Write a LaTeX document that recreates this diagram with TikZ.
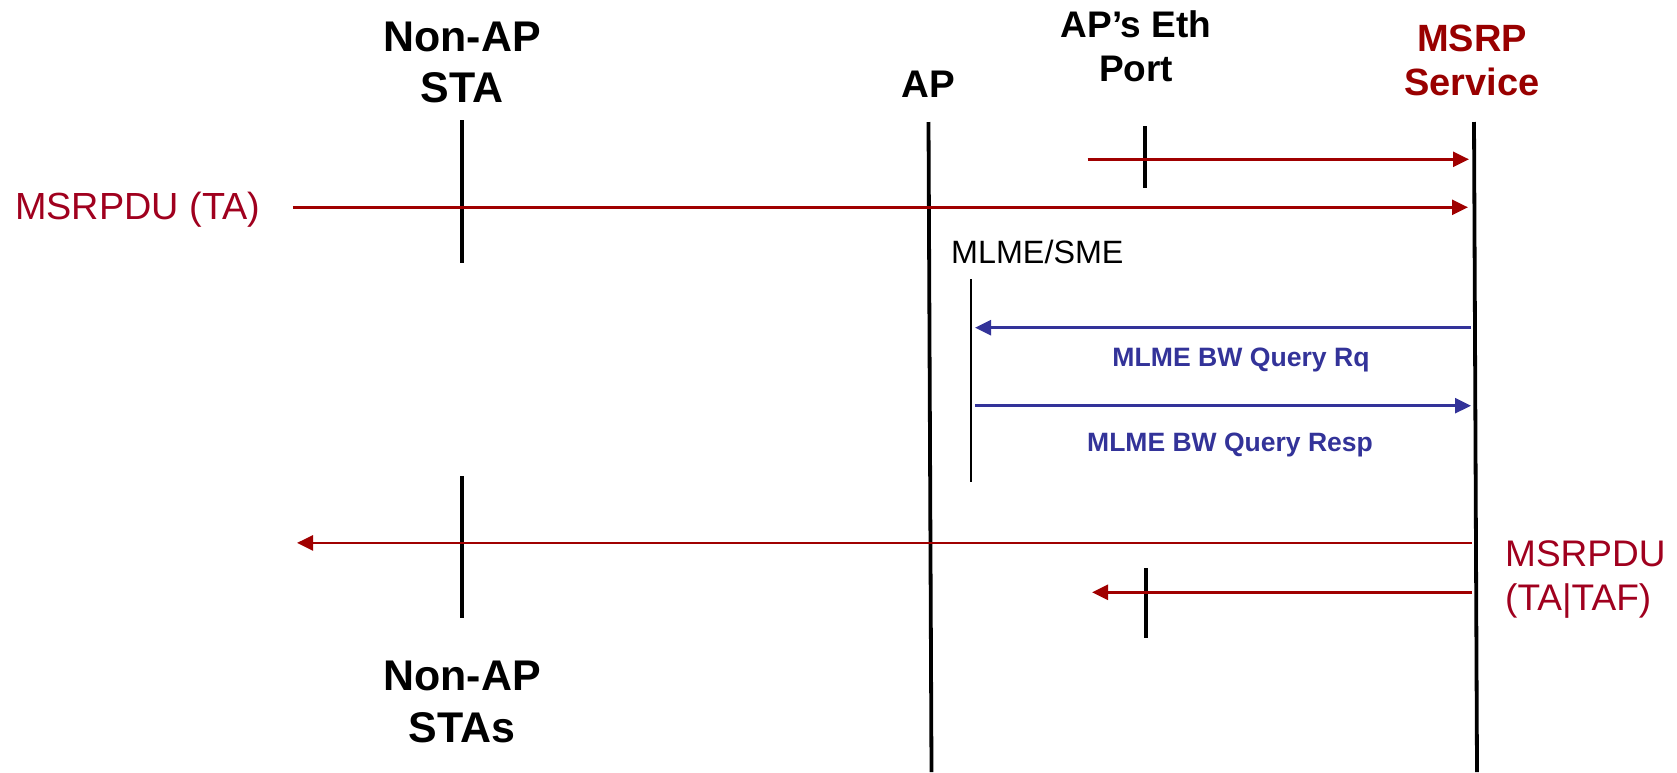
\documentclass[tikz,border=0pt]{standalone}
\usepackage{fontspec}
\setmainfont{Liberation Sans}
\usetikzlibrary{arrows.meta}
\definecolor{msred}{HTML}{A0001E}
\definecolor{arrred}{HTML}{A00000}
\definecolor{svcred}{HTML}{990000}
\definecolor{qblue}{HTML}{333399}
\begin{document}
\begin{tikzpicture}[x=1pt,y=-1pt,
  lifeline/.style={line width=3.8pt,black},
  tickline/.style={line width=3.5pt,black},
  smeline/.style={line width=2.5pt,black},
  redmsg/.style={line width=2.7pt,arrred,-{Triangle[length=16pt,width=15pt]}},
  bluemsg/.style={line width=2.7pt,qblue,-{Triangle[length=16pt,width=15pt]}},
  hdr/.style={align=center,inner sep=0pt,anchor=base},
  lbl/.style={inner sep=0pt}]
\useasboundingbox[fill=white] (0,0) rectangle (1677,772);

% headers (anchor = baseline of last line)
\node[hdr,font=\bfseries\fontsize{42.9}{50.6}\selectfont] (sta) at (462,102.3) {Non-AP\\STA};
\node[hdr,font=\bfseries\fontsize{38.5}{46}\selectfont] (ap) at (928.5,97.3) {AP};
\node[hdr,font=\bfseries\fontsize{37}{44.4}\selectfont] (eth) at (1136,81.7) {AP’s Eth\\Port};
\node[hdr,svcred,font=\bfseries\fontsize{38}{44}\selectfont] (svc) at (1472,95) {MSRP\\Service};
\node[hdr,font=\bfseries\fontsize{42.9}{52}\selectfont] (stas) at (462,742) {Non-AP\\STAs};

% labels
\node[lbl,anchor=base west,msred,font=\fontsize{37.8}{44}\selectfont] (pdu1) at (15,219) {MSRPDU (TA)};
\node[lbl,anchor=base west,font=\fontsize{32.3}{38}\selectfont] (sme) at (951,263.3) {MLME/SME};
\node[lbl,anchor=base,qblue,font=\bfseries\fontsize{26.6}{31}\selectfont] (rq) at (1241,366) {MLME BW Query Rq};
\node[lbl,anchor=base,qblue,font=\bfseries\fontsize{26.5}{31}\selectfont] (resp) at (1230,451) {MLME BW Query Resp};
\node[lbl,anchor=base west,align=left,msred,font=\fontsize{37}{43.3}\selectfont] (pdu2) at (1505,610) {MSRPDU\\(TA|TAF)};

% lifeline coordinates
\coordinate (staT) at (462,120);
\coordinate (staB) at (462,263);
\coordinate (stasT) at (462,476);
\coordinate (stasB) at (462,618);
\coordinate (apT) at (928.5,122);
\coordinate (apB) at (931.5,772);
\coordinate (svcT) at (1474,122);
\coordinate (svcB) at (1477,772);
\coordinate (ethT1) at (1145,126);
\coordinate (ethB1) at (1145,188);
\coordinate (ethT2) at (1146,568);
\coordinate (ethB2) at (1146,638);
\coordinate (smeT) at (971,279);
\coordinate (smeB) at (971,482);

\draw[lifeline] (staT) -- (staB);
\draw[lifeline] (stasT) -- (stasB);
\draw[lifeline] (apT) -- (apB);
\draw[lifeline] (svcT) -- (svcB);
\draw[tickline] (ethT1) -- (ethB1);
\draw[tickline] (ethT2) -- (ethB2);
\draw[smeline] (smeT) -- (smeB);

% message coordinates
\coordinate (m1s) at (1087.5,159.3);
\coordinate (m1e) at (1469,159.3);
\coordinate (m2s) at (292.8,207.3);
\coordinate (m2e) at (1468,207.3);
\coordinate (m3s) at (1471,327.7);
\coordinate (m3e) at (975,327.7);
\coordinate (m4s) at (975,405.7);
\coordinate (m4e) at (1471,405.7);
\coordinate (m5s) at (1472,542.9);
\coordinate (m5e) at (297,542.9);
\coordinate (m6s) at (1472,592.3);
\coordinate (m6e) at (1092,592.3);

\draw[redmsg] (m1s) -- (m1e);
\draw[redmsg] (m2s) -- (m2e);
\draw[bluemsg] (m3s) -- (m3e);
\draw[bluemsg] (m4s) -- (m4e);
\draw[redmsg] (m5s) -- (m5e);
\draw[redmsg] (m6s) -- (m6e);
\end{tikzpicture}
\end{document}
